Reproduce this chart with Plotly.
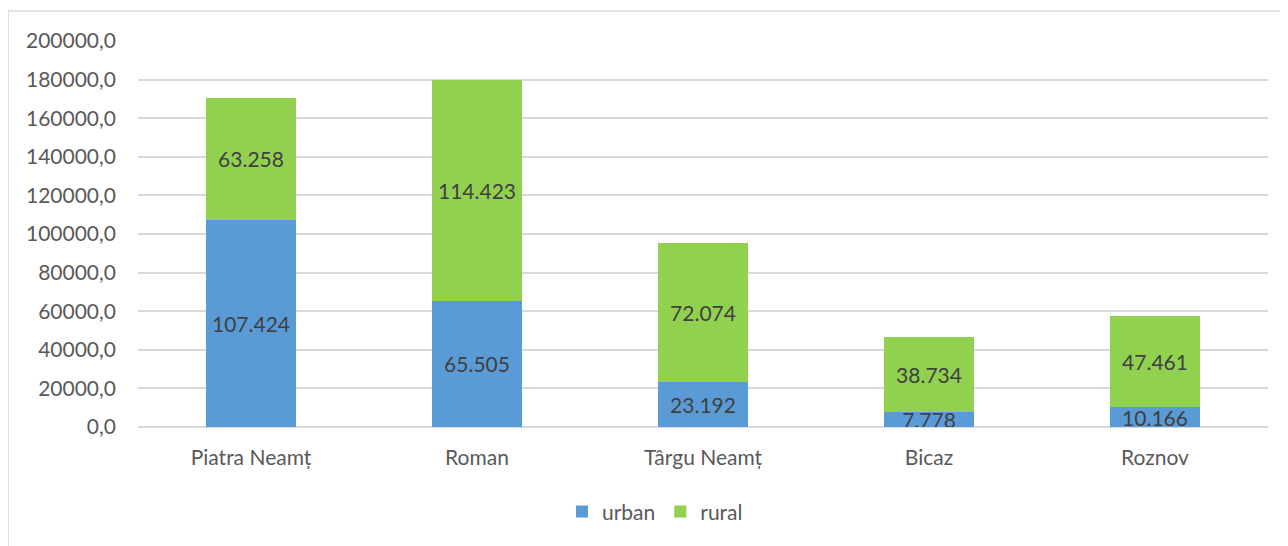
import plotly.graph_objects as go

categories = ["Piatra Neamț", "Roman", "Târgu Neamț", "Bicaz", "Roznov"]
urban = [107424, 65505, 23192, 7778, 10166]
rural = [63258, 114423, 72074, 38734, 47461]
y_ticks = [0, 20000, 40000, 60000, 80000, 100000, 120000, 140000, 160000, 180000, 200000]

FONT = "Lato"
# page body has an 8px margin, so the figure is laid out 8px smaller
fig = go.Figure()
fig.add_trace(go.Bar(
    name="urban", x=categories, y=urban, marker=dict(color="#5B9BD5", line=dict(width=0)),
    texttemplate="%{y:,}", textposition="inside", insidetextanchor="middle",
    textfont=dict(family=FONT, size=21, color="#404040"), constraintext="none",
))
fig.add_trace(go.Bar(
    name="rural", x=categories, y=rural, marker=dict(color="#92D050", line=dict(width=0)),
    texttemplate="%{y:,}", textposition="inside", insidetextanchor="middle",
    textfont=dict(family=FONT, size=21, color="#404040"), constraintext="none",
))

fig.update_layout(
    barmode="stack",
    bargap=0.6,
    separators=",.",
    width=1280, height=538,
    margin=dict(l=130, r=20, t=33, b=119),
    paper_bgcolor="white", plot_bgcolor="white",
    font=dict(family=FONT, size=21, color="#595959"),
    legend=dict(orientation="h", x=0.4575, xanchor="center", y=-0.22, yanchor="middle",
                font=dict(family=FONT, size=21, color="#595959"),
                traceorder="normal"),
    xaxis=dict(showgrid=False, showline=False, ticks="", ticklabelstandoff=16,
               tickfont=dict(size=21, color="#595959")),
    yaxis=dict(range=[0, 200000], tickvals=y_ticks, tickformat=".1f",
               showgrid=True, gridcolor="#D9D9D9", gridwidth=1.5,
               zeroline=True, zerolinecolor="#D9D9D9", zerolinewidth=1.5,
               showline=False, ticks="", ticklabelstandoff=21,
               tickfont=dict(size=21, color="#595959")),
    shapes=[dict(type="rect", xref="paper", yref="paper",
                 x0=-0.115, x1=1.05, y0=-0.4, y1=1.0777,
                 line=dict(color="#D9D9D9", width=1.5), layer="below")],
)

fig.write_html("out.html")
